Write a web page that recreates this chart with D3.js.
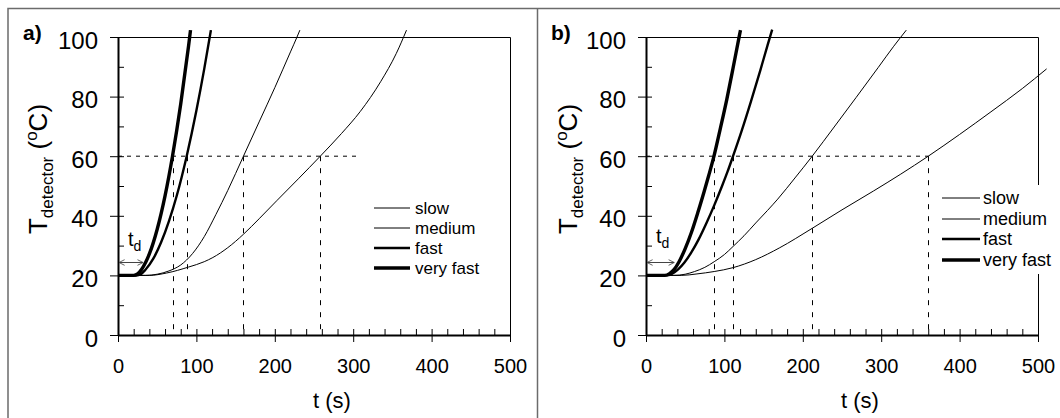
<!DOCTYPE html>
<html>
<head>
<meta charset="utf-8">
<script src="https://cdn.jsdelivr.net/npm/d3@7"></script>
<style>
    body { margin:0; background:#fff; }
    svg { display:block; font-family:"Liberation Sans", Arial, sans-serif; }
    .axis path, .axis line { stroke:#000; }
    .axis text { fill:#000; }
</style>
</head>
<body>
<svg id="chart" width="1060" height="418"></svg>
<script>
// -- data: [t (s), T (oC)]

// panel a)
var aSlow = [[0,20],[40,20],[62,20.8],[90,22.8],[110,24.6],[121,26],[140,29.3],[160,33.8],[180,39],[203,45.2],[230,52.4],[258,60],[285,67.6],[309,75],[335,85],[355,94.5],[368,102.3]];
var aMedium = [[0,20],[35,20],[50,20.4],[65,21.5],[80,23.5],[95,27.3],[110,33],[125,40.5],[140,48.5],[160,60],[180,71.5],[200,83],[220,95],[228,99.8],[232,102.3]];
var aFast = [[0,20],[22,20],[28,20.3],[35,21.9],[45,25.6],[55,31.1],[65,38.2],[75,46.8],[87.6,60],[100,75.3],[110,89.3],[118.5,102.3]];
var aVeryFast = [[0,20],[20,20],[25,20.5],[30,22],[40,27.2],[50,35.5],[60,46.7],[69.5,60],[80,77.5],[90,97],[92.5,102.3]];
var aCross = [70, 88, 160, 258];
var aDelay = 32;

// panel b)
var bSlow = [[0,20],[45,20],[65,20.5],[87,21.3],[111,22.6],[140,25.3],[170,29.2],[212,35.8],[250,42],[290,48.3],[325,54],[360,60],[400,67.3],[440,74.9],[480,82.7],[511,89.3]];
var bMedium = [[0,20],[35,20],[50,20.4],[62,21.3],[75,22.7],[87,24.6],[100,27],[111,29.7],[125,33.3],[140,37.6],[155,41.8],[168,45.6],[190,52.7],[212,60],[240,69.8],[268,79.7],[296,89.7],[316,96.9],[332,102.3]];
var bFast = [[0,20],[26,20],[33,20.5],[41,22],[49,24.3],[58,27.8],[67,32],[77,37.5],[87,43.5],[97,50],[104,54.8],[111,60],[122,68.5],[134,78.5],[146,89],[155,97.2],[161,102.5]];
var bVeryFast = [[0,20],[24,20],[30,20.6],[36,22],[42,24.5],[50,29],[58,34.5],[66,41],[74,48],[80,53.5],[86.7,60],[95,69.5],[103,79],[111,89.5],[118.6,99.8],[120.5,102.3]];
var bCross = [87, 111, 212, 360];
var bDelay = 36;

var seriesNames = ["slow", "medium", "fast", "very fast"];
var xTicks = [0, 100, 200, 300, 400, 500];
var yTicks = [0, 20, 40, 60, 80, 100];
var thresholdT = 60;

// -- layout / style (not data)
var lineWidths = [1, 1, 2.4, 3.4];
var fontFam = '"Liberation Sans", Arial, sans-serif';

var panels = [
    {name:"a)", series:[aSlow, aMedium, aFast, aVeryFast], cross:aCross, delay:aDelay,
     left:118, tagX:23, ylabX:47, hEnd:306, tdDy:16,
     legend:{x0:374, x1:410, tx:415, y0:208, dy:20, fs:17, box:null}},
    {name:"b)", series:[bSlow, bMedium, bFast, bVeryFast], cross:bCross, delay:bDelay,
     left:646, tagX:551, ylabX:577, hEnd:360, tdDy:19,
     legend:{x0:942, x1:980, tx:983, y0:198, dy:20.7, fs:18, box:[935,185,120,89]}}
];

var svg = d3.select("#chart");
var plotW = 392, yTop = 37, yBot = 335;

// -- outer frame with divider
svg.append("path")
    .attr("d", "M8,418V8.5H1060M537.5,8.5V418")
    .attr("fill", "none")
    .attr("stroke", "#6b6b6b")
    .attr("stroke-width", 1.5);

panels.forEach(function(p){
    var x = d3.scaleLinear().domain([0, 500]).range([p.left, p.left + plotW]);
    var y = d3.scaleLinear().domain([0, 100]).range([yBot, yTop]);
    var g = svg.append("g");

    // -- frame (top + right)
    g.append("path")
        .attr("d", "M" + x(0) + "," + (yTop + 0.5) + "H" + (x(500) + 0.5) + "V" + yBot)
        .attr("fill", "none").attr("stroke", "#000").attr("stroke-width", 1);

    // -- dashed reference lines
    g.append("line")
        .attr("x1", x(0)).attr("x2", x(p.hEnd))
        .attr("y1", y(thresholdT)).attr("y2", y(thresholdT))
        .attr("stroke", "#000").attr("stroke-width", 1).attr("stroke-dasharray", "4,5");

    g.selectAll(".vdash").data(p.cross).enter().append("line")
        .attr("class", "vdash")
        .attr("x1", function(d){return Math.round(x(d)) + 0.5;})
        .attr("x2", function(d){return Math.round(x(d)) + 0.5;})
        .attr("y1", y(thresholdT)).attr("y2", y(0))
        .attr("stroke", "#000").attr("stroke-width", 1).attr("stroke-dasharray", "5,7");

    // -- y axis: labelled major ticks outward, inner ticks every 10
    var yAx = g.append("g").attr("class", "axis")
        .attr("transform", "translate(" + x(0) + ",0)")
        .call(d3.axisLeft(y).tickValues(yTicks).tickSizeInner(8).tickSizeOuter(0).tickPadding(12));
    yAx.select(".domain").attr("stroke-width", 2);
    yAx.selectAll("text").attr("dy", "0.46em")
        .style("font-size", "24px").style("font-family", fontFam);

    var yIn = g.append("g").attr("class", "axis")
        .attr("transform", "translate(" + x(0) + ",0)")
        .call(d3.axisRight(y).tickValues(d3.range(0, 101, 10)).tickSize(6).tickFormat(""));
    yIn.select(".domain").remove();

    // -- x axis: labelled major ticks down, inner ticks every 20
    var xAx = g.append("g").attr("class", "axis")
        .attr("transform", "translate(0," + yBot + ")")
        .call(d3.axisBottom(x).tickValues(xTicks).tickSizeInner(7).tickSizeOuter(0).tickPadding(17));
    xAx.select(".domain").attr("stroke-width", 2);
    xAx.selectAll("text")
        .style("font-size", "20px").style("font-family", fontFam);

    var xIn = g.append("g").attr("class", "axis")
        .attr("transform", "translate(0," + yBot + ")")
        .call(d3.axisTop(x).tickValues(d3.range(0, 501, 20)).tickSize(6).tickFormat(""));
    xIn.select(".domain").remove();

    // -- axis titles
    g.append("text")
        .attr("x", p.left + 195).attr("y", 408)
        .style("font-size", "22px")
        .text("t (s)");

    var yl = g.append("text")
        .attr("transform", "translate(" + p.ylabX + ",169) rotate(-90)")
        .attr("text-anchor", "middle")
        .style("font-size", "26px");
    yl.append("tspan").text("T");
    yl.append("tspan").attr("dy", 6).style("font-size", "17px").text("detector");
    yl.append("tspan").attr("dy", -6).text(" (");
    yl.append("tspan").attr("dy", -10).style("font-size", "17px").text("o");
    yl.append("tspan").attr("dy", 10).text("C)");

    // -- panel tag
    g.append("text")
        .attr("x", p.tagX).attr("y", 40)
        .style("font-size", "21px").style("font-weight", "bold")
        .text(p.name);

    // -- delay arrow t_d
    var arrowY = 262;
    var mid = "arr" + p.name.charAt(0);
    var defs = g.append("defs");
    ["s", "e"].forEach(function(k){
        defs.append("marker")
            .attr("id", mid + k)
            .attr("viewBox", "0 0 10 10")
            .attr("refX", k == "e" ? 9 : 1).attr("refY", 5)
            .attr("markerWidth", 7).attr("markerHeight", 7)
            .attr("markerUnits", "userSpaceOnUse")
            .attr("orient", "auto")
            .append("path")
            .attr("d", k == "e" ? "M1,1L9,5L1,9" : "M9,1L1,5L9,9")
            .attr("fill", "none").attr("stroke", "#444").attr("stroke-width", 1.2);
    });
    g.append("line")
        .attr("x1", x(0) + 1).attr("x2", x(p.delay))
        .attr("y1", arrowY + 0.5).attr("y2", arrowY + 0.5)
        .attr("stroke", "#444").attr("stroke-width", 1)
        .attr("marker-start", "url(#" + mid + "s)")
        .attr("marker-end", "url(#" + mid + "e)");
    var td = g.append("text")
        .attr("x", x(0) + 10).attr("y", arrowY - p.tdDy)
        .style("font-size", "20px");
    td.append("tspan").text("t");
    td.append("tspan").attr("dy", 5).style("font-size", "14px").text("d");

    // -- curves
    var line = d3.line()
        .x(function(d){return x(d[0]);})
        .y(function(d){return y(d[1]);})
        .curve(d3.curveMonotoneX);

    g.selectAll(".curve").data(p.series).enter().append("path")
        .attr("class", "curve")
        .attr("d", line)
        .attr("fill", "none")
        .attr("stroke", "#000")
        .attr("stroke-linejoin", "round")
        .attr("stroke-width", function(d, i){return lineWidths[i];});

    // -- legend
    var L = p.legend;
    var lg = g.append("g");
    if (L.box) {
        lg.append("rect")
            .attr("x", L.box[0]).attr("y", L.box[1])
            .attr("width", L.box[2]).attr("height", L.box[3])
            .attr("fill", "#fff");
    }
    var rows = lg.selectAll(".row").data(seriesNames).enter().append("g")
        .attr("class", "row")
        .attr("transform", function(d, i){return "translate(0," + Math.round(L.y0 + i * L.dy) + ")";});
    rows.append("line")
        .attr("x1", L.x0).attr("x2", L.x1)
        .attr("stroke", "#000")
        .attr("stroke-width", function(d, i){return i < 2 ? 1 : lineWidths[i];});
    rows.append("text")
        .attr("x", L.tx).attr("dy", "0.36em")
        .style("font-size", L.fs + "px")
        .text(function(d){return d;});
});
</script>
</body>
</html>
